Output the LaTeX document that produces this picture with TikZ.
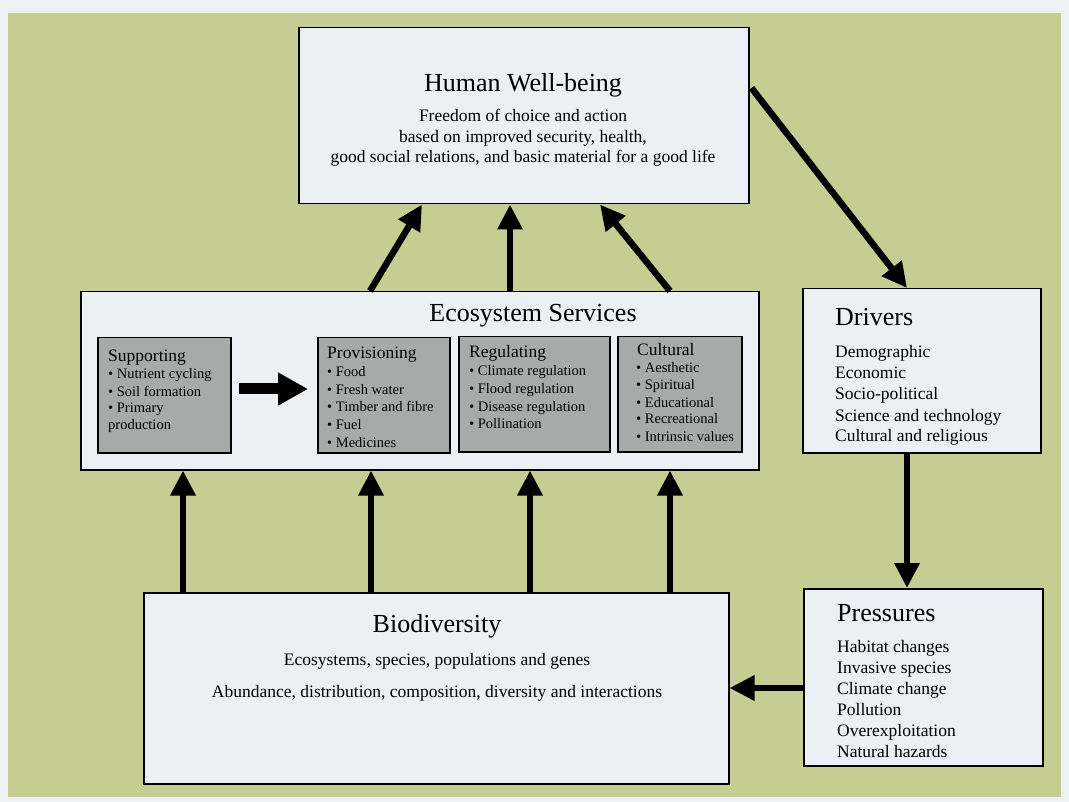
\documentclass[tikz,border=0pt]{standalone}
\usepackage{fontspec}
\setmainfont{Liberation Serif}
\usetikzlibrary{arrows.meta}
\definecolor{bggreen}{RGB}{197,205,146}
\definecolor{outerbg}{RGB}{238,241,241}
\definecolor{boxfill}{RGB}{236,239,243}
\definecolor{innerfill}{RGB}{168,170,170}
\tikzset{
  bigbox/.style={draw=black, line width=1.5pt, fill=boxfill, inner sep=0pt, anchor=north west},
  smallbox/.style={draw=black, line width=1.5pt, fill=innerfill, inner sep=0pt, anchor=north west},
  titletext/.style={font=\fontsize{26}{30}\selectfont, inner sep=0pt},
  bodytext/.style={font=\fontsize{17.5}{21}\selectfont, inner sep=0pt, anchor=base},
  listtext/.style={font=\fontsize{17.5}{21}\selectfont, inner sep=0pt, anchor=base west},
  headtext/.style={font=\fontsize{17.5}{21}\selectfont, inner sep=0pt, anchor=base west},
  itemtext/.style={font=\fontsize{14.5}{17}\selectfont, inner sep=0pt, anchor=base west},
  flow/.style={line width=6.5pt, -{Triangle[length=25pt,width=24pt]}},
  bigflow/.style={line width=11pt, -{Triangle[length=30pt,width=31pt]}}
}
\begin{document}
\begin{tikzpicture}[x=1pt,y=-1pt]
\useasboundingbox (0,0) rectangle (1069,802);
\fill[outerbg] (0,0) rectangle (1069,802);
\fill[bggreen] (8,13) rectangle (1061,797);

% Human well-being
\node[bigbox, minimum width=450pt, minimum height=176pt] (hwb) at (298,27) {};
\node[titletext, anchor=base] (hwbt) at (523,92) {Human Well-being};
\node[bodytext] (hwb1) at (523,122) {Freedom of choice and action};
\node[bodytext] (hwb2) at (523,143) {based on improved security, health,};
\node[bodytext] (hwb3) at (523,163) {good social relations, and basic material for a good life};

% Ecosystem services
\node[bigbox, minimum width=678pt, minimum height=178pt] (es) at (80,291) {};
\node[titletext, anchor=base] (est) at (533,322) {Ecosystem Services};

\node[smallbox, minimum width=133pt, minimum height=115pt] (sup) at (97,337) {};
\node[smallbox, minimum width=132pt, minimum height=115pt] (prov) at (317,337) {};
\node[smallbox, minimum width=151pt, minimum height=115pt] (reg) at (458,336) {};
\node[smallbox, minimum width=124pt, minimum height=115pt] (cult) at (617,336) {};

\node[headtext] (supt) at (108,362) {Supporting};
\foreach [count=\i from 0] \t in {• Nutrient cycling, • Soil formation, • Primary, production}
  \node[itemtext] (sup\i) at (108,{379+17*\i}) {\t};

\node[headtext] (provt) at (327,359) {Provisioning};
\foreach [count=\i from 0] \t in {• Food, • Fresh water, • Timber and fibre, • Fuel, • Medicines}
  \node[itemtext] (prov\i) at (327,{377+17.5*\i}) {\t};

\node[headtext] (regt) at (469,358) {Regulating};
\foreach [count=\i from 0] \t in {• Climate regulation, • Flood regulation, • Disease regulation, • Pollination}
  \node[itemtext] (reg\i) at (469,{376+17.5*\i}) {\t};

\node[headtext] (cultt) at (637,356) {Cultural};
\foreach [count=\i from 0] \t in {• Aesthetic, • Spiritual, • Educational, • Recreational, • Intrinsic values}
  \node[itemtext] (cult\i) at (636,{373+17*\i}) {\t};

% Drivers
\node[bigbox, minimum width=238pt, minimum height=164pt] (drv) at (802,288) {};
\node[titletext, anchor=base west] (drvt) at (835,326) {Drivers};
\foreach [count=\i from 0] \t in {Demographic, Economic, Socio-political, Science and technology, Cultural and religious}
  \node[listtext] (drv\i) at (835,{358+21*\i}) {\t};

% Pressures
\node[bigbox, minimum width=239pt, minimum height=177pt] (prs) at (803,588) {};
\node[titletext, anchor=base west] (prst) at (837,621) {Pressures};
\foreach [count=\i from 0] \t in {Habitat changes, Invasive species, Climate change, Pollution, Overexploitation, Natural hazards}
  \node[listtext] (prs\i) at (837,{652+21*\i}) {\t};

% Biodiversity
\node[bigbox, minimum width=585pt, minimum height=191pt] (bio) at (143,592) {};
\node[titletext, anchor=base] (biot) at (437,632) {Biodiversity};
\node[bodytext] (bio1) at (437,665) {Ecosystems, species, populations and genes};
\node[bodytext] (bio2) at (437,697) {Abundance, distribution, composition, diversity and interactions};

% Arrows: biodiversity -> ecosystem services
\foreach \x in {183,371,530,670}
  \draw[flow] (bio.north -| \x,0) -- (es.south -| \x,0);

% ecosystem services -> human well-being
\draw[flow] (es.north -| 370,0) -- (hwb.south -| 422,0);
\draw[flow] (es.north -| 510,0) -- (hwb.south -| 510,0);
\draw[flow] (es.north -| 670,0) -- (hwb.south -| 600,0);

% supporting -> provisioning
\draw[bigflow] ([xshift=7pt,yshift=-52pt]sup.north east) -- ([xshift=-9pt,yshift=-52pt]prov.north west);

% cycle
\draw[flow] ([xshift=2pt,yshift=-61pt]hwb.north east) -- (drv.north -| 907,0);
\draw[flow] (drv.south -| 907,0) -- (prs.north -| 907,0);
\draw[flow] (prs.west |- 0,688) -- (bio.east |- 0,688);
\end{tikzpicture}
\end{document}
